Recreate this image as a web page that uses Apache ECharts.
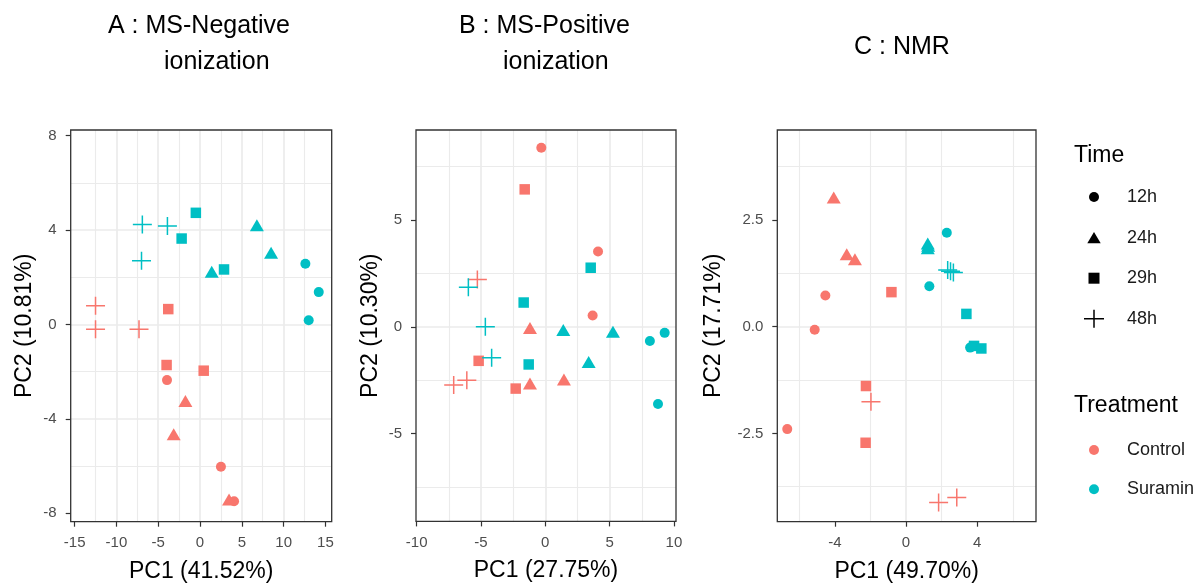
<!DOCTYPE html>
<html><head><meta charset="utf-8">
<script src="https://cdn.jsdelivr.net/npm/echarts@6/dist/echarts.min.js"></script>
<style>html,body{margin:0;padding:0;background:#fff}#c{width:1203px;height:583px}</style>
</head><body><div id="c"></div>
<script>
// ---------- data ----------
const times = ['12h', '24h', '29h', '48h'];
const treatments = ['Control', 'Suramin'];

// Panel A : MS-Negative ionization  [PC1, PC2, time]
const negControl = [
  [-3.95, -2.36, '12h'], [2.5, -6.03, '12h'], [4.07, -7.49, '12h'],
  [-1.75, -3.25, '24h'], [-3.15, -4.65, '24h'], [3.47, -7.42, '24h'],
  [-3.8, 0.65, '29h'], [-4.0, -1.72, '29h'], [0.44, -1.96, '29h'],
  [-12.5, 0.79, '48h'], [-12.5, -0.2, '48h'], [-7.3, -0.2, '48h']
];
const negSuramin = [
  [12.6, 2.57, '12h'], [14.2, 1.37, '12h'], [13.0, 0.18, '12h'],
  [1.4, 2.23, '24h'], [6.8, 4.2, '24h'], [8.5, 3.04, '24h'],
  [-0.5, 4.73, '29h'], [-2.2, 3.64, '29h'], [2.87, 2.33, '29h'],
  [-6.9, 4.24, '48h'], [-3.9, 4.17, '48h'], [-7.0, 2.70, '48h']
];
// Panel B : MS-Positive ionization
const posControl = [
  [-0.31, 8.39, '12h'], [4.1, 3.53, '12h'], [3.68, 0.53, '12h'],
  [-1.19, -0.05, '24h'], [-1.19, -2.65, '24h'], [1.45, -2.47, '24h'],
  [-1.6, 6.44, '29h'], [-5.18, -1.59, '29h'], [-2.3, -2.89, '29h'],
  [-5.28, 2.22, '48h'], [-6.1, -2.5, '48h'], [-7.12, -2.72, '48h']
];
const posSuramin = [
  [8.13, -0.66, '12h'], [9.28, -0.28, '12h'], [8.76, -3.61, '12h'],
  [1.4, -0.15, '24h'], [5.26, -0.23, '24h'], [3.37, -1.64, '24h'],
  [-1.68, 1.14, '29h'], [3.53, 2.77, '29h'], [-1.29, -1.76, '29h'],
  [-5.98, 1.85, '48h'], [-4.66, 0.0, '48h'], [-4.17, -1.45, '48h']
];
// Panel C : NMR
const nmrControl = [
  [-4.53, 0.73, '12h'], [-5.13, -0.07, '12h'], [-6.67, -2.40, '12h'],
  [-4.06, 3.03, '24h'], [-3.33, 1.70, '24h'], [-2.87, 1.58, '24h'],
  [-0.82, 0.81, '29h'], [-2.25, -1.39, '29h'], [-2.27, -2.72, '29h'],
  [-1.97, -1.76, '48h'], [1.83, -4.12, '48h'], [2.85, -4.0, '48h']
];
const nmrSuramin = [
  [2.29, 2.2, '12h'], [1.31, 0.95, '12h'], [3.6, -0.49, '12h'],
  [1.22, 1.95, '24h'], [1.22, 1.84, '24h'], [1.24, 1.9, '24h'],
  [3.39, 0.30, '29h'], [3.82, -0.45, '29h'], [4.23, -0.51, '29h'],
  [2.34, 1.33, '48h'], [2.66, 1.27, '48h'], [2.5, 1.3, '48h']
];

const panelTitles = [['A : MS-Negative', 'ionization'], ['B : MS-Positive', 'ionization'], ['C : NMR']];
const xTitles = ['PC1 (41.52%)', 'PC1 (27.75%)', 'PC1 (49.70%)'];
const yTitles = ['PC2 (10.81%)', 'PC2 (10.30%)', 'PC2 (17.71%)'];
const xTicksA = [-15, -10, -5, 0, 5, 10, 15];
const yTicksA = [-8, -4, 0, 4, 8];
const xTicksB = [-10, -5, 0, 5, 10];
const yTicksB = [-5, 0, 5];
const xTicksC = [-4, 0, 4];
const yTicksC = [-2.5, 0, 2.5];

// ---------- styling / layout ----------
const FONT = 'Liberation Sans, Arial, sans-serif';
const colors = ['#F8766D', '#00BFC4'];
const PLUS = 'path://M0,8.25H19V9.75H0ZM8.75,0H10.25V18H8.75Z';
const symbolFor = {'12h': 'circle', '24h': 'triangle', '29h': 'rect', '48h': PLUS};
const sizeFor = {'12h': 10, '24h': [14, 12], '29h': 10.5, '48h': [19, 18]};
const legendIcons = {
  '12h': 'path://M0,0M20,20M5,10A5,5,0,1,1,15,10A5,5,0,1,1,5,10Z',
  '24h': 'path://M0,0M20,20M3.3,15.7H16.7L10,4.3Z',
  '29h': 'path://M0,0M20,20M4.5,4.5H15.5V15.5H4.5Z',
  '48h': 'path://M0,0M20,20M0,9.25H20V10.75H0ZM9.25,1H10.75V19H9.25Z'
};

const panels = [
  {grid: {left: 70.7, top: 130, width: 261, height: 391.7}, x: [-15.47, 15.75], y: [-8.36, 8.24],
   xs: 5, ys: 4, xt: xTicksA, yt: yTicksA, yGap: 35, yFmt: v => String(v), data: [negControl, negSuramin]},
  {grid: {left: 416, top: 130, width: 260, height: 391.4}, x: [-10.05, 10.16], y: [-9.11, 9.22],
   xs: 5, ys: 5, xt: xTicksB, yt: yTicksB, yGap: 34, yFmt: v => String(v), data: [posControl, posSuramin]},
  {grid: {left: 777.3, top: 130, width: 258.7, height: 391.7}, x: [-7.23, 7.3], y: [-4.57, 4.61],
   xs: 4, ys: 2.5, xt: xTicksC, yt: yTicksC, yGap: 52, yFmt: v => v.toFixed(1), data: [nmrControl, nmrSuramin]}
];

const grids = [], xAxes = [], yAxes = [], series = [];
panels.forEach((p, i) => {
  grids.push(Object.assign({show: true, borderColor: '#333333', borderWidth: 1.3, backgroundColor: 'transparent',
    z: 1, containLabel: false, outerBoundsMode: 'none'}, p.grid));
  const common = (ticks, fmt) => ({
    type: 'value', gridIndex: i,
    axisLine: {show: false, onZero: false},
    axisTick: {show: true, inside: false, length: 5, customValues: ticks, lineStyle: {color: '#333333', width: 1.2}},
    axisLabel: {customValues: ticks, color: '#4D4D4D', fontSize: 15, fontFamily: FONT, margin: 14, formatter: fmt},
    splitLine: {show: true, showMinLine: false, showMaxLine: false, lineStyle: {color: '#EBEBEB', width: 1.7}},
    minorTick: {show: false, splitNumber: 2},
    minorSplitLine: {show: true, lineStyle: {color: '#EBEBEB', width: 1.1}},
    nameLocation: 'middle',
    nameTextStyle: {fontSize: 23, fontFamily: FONT, color: '#000'}
  });
  xAxes.push(Object.assign(common(p.xt, v => String(v)), {
    position: 'bottom', min: p.x[0], max: p.x[1], minInterval: p.xs, maxInterval: p.xs, name: xTitles[i], nameGap: 38
  }));
  yAxes.push(Object.assign(common(p.yt, p.yFmt), {
    position: 'left', min: p.y[0], max: p.y[1], minInterval: p.ys, maxInterval: p.ys, name: yTitles[i], nameGap: p.yGap
  }));
  times.forEach(t => {
    const pts = [];
    p.data.forEach((arr, k) => {
      arr.filter(d => d[2] === t).forEach(d => pts.push({value: [d[0], d[1]], itemStyle: {color: colors[k]}}));
    });
    series.push({
      type: 'scatter', name: t, xAxisIndex: i, yAxisIndex: i,
      symbol: symbolFor[t], symbolSize: sizeFor[t], data: pts,
      itemStyle: {opacity: 1}, emphasis: {disabled: true}, z: 3
    });
  });
});
treatments.forEach((t, k) => series.push({type: 'scatter', name: t, xAxisIndex: 0, yAxisIndex: 0, data: [],
  itemStyle: {color: colors[k], opacity: 1}}));

const titleStyle = {fontSize: 25, fontFamily: FONT, fontWeight: 'normal', color: '#000'};
const titles = [
  {text: panelTitles[0][0], left: 108, top: 14},
  {text: panelTitles[0][1], left: 164, top: 49.7},
  {text: panelTitles[1][0], left: 459, top: 14},
  {text: panelTitles[1][1], left: 503, top: 49.7},
  {text: panelTitles[2][0], left: 854, top: 34.7}
].map(o => Object.assign({padding: 0, textStyle: titleStyle}, o));
const legendTitleStyle = {fontSize: 23, fontFamily: FONT, fontWeight: 'normal', color: '#000'};
titles.push({text: 'Time', left: 1074, top: 144.5, padding: 0, textStyle: legendTitleStyle});
titles.push({text: 'Treatment', left: 1074, top: 394.5, padding: 0, textStyle: legendTitleStyle});

const legendText = {fontSize: 18, fontFamily: FONT, color: '#1A1A1A'};
const option = {
  animation: false,
  backgroundColor: '#ffffff',
  title: titles,
  grid: grids, xAxis: xAxes, yAxis: yAxes, series: series,
  legend: [
    {data: times.map(t => ({name: t, icon: legendIcons[t], itemStyle: {color: '#000', opacity: 1}})),
     orient: 'vertical', left: 1084, top: 187, itemWidth: 56, itemHeight: 20, itemGap: 20.6, padding: 0,
     selectedMode: false, textStyle: legendText},
    {data: treatments.map((t, k) => ({name: t, icon: legendIcons['12h'], itemStyle: {color: colors[k], opacity: 1}})),
     orient: 'vertical', left: 1084, top: 440, itemWidth: 56, itemHeight: 20, itemGap: 19.3, padding: 0,
     selectedMode: false, textStyle: legendText}
  ]
};
const chart = echarts.init(document.getElementById('c'), null, {renderer: 'canvas'});
chart.setOption(option);
</script></body></html>
